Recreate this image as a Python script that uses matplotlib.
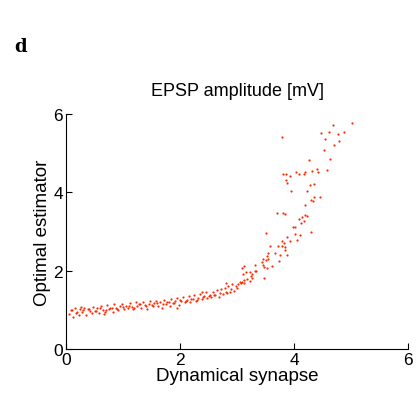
import matplotlib.pyplot as plt

plt.rcParams['font.family'] = ['Liberation Sans', 'DejaVu Sans']

# lower band (dynamical synapse vs optimal estimator)
band_x = [0.05, 0.08, 0.12, 0.15, 0.18, 0.22, 0.25, 0.28, 0.31, 0.35, 0.38, 0.42, 0.45, 0.48,
          0.52, 0.55, 0.58, 0.62, 0.65, 0.68, 0.72, 0.75, 0.78, 0.82, 0.85, 0.88, 0.92, 0.95,
          0.98, 1.02, 1.05, 1.08, 1.12, 1.15, 1.18, 1.22, 1.25, 1.28, 1.32, 1.35, 1.38, 1.42,
          1.45, 1.48, 1.52, 1.55, 1.58, 1.62, 1.65, 1.68, 1.72, 1.75, 1.78, 1.82, 1.85, 1.88,
          1.92, 1.95, 1.98, 2.02, 2.05, 2.08, 2.12, 2.15, 2.18, 2.22, 2.25, 2.28, 2.32, 2.35,
          2.38, 2.42, 2.45, 2.48, 2.52, 2.55, 2.58, 2.62, 2.65, 2.68, 2.72, 2.75, 2.78, 2.82,
          2.85, 2.88, 2.92, 2.95, 2.98, 3.02, 0.10, 0.20, 0.30, 0.40, 0.50, 0.60, 0.70, 0.80,
          0.90, 1.00, 1.10, 1.20, 1.30, 1.40, 1.50, 1.60, 1.70, 1.80, 1.90, 2.00, 2.10, 2.20,
          2.30, 2.40, 2.50, 2.60, 2.70, 2.80, 2.90, 3.00, 1.95, 2.38, 2.80, 3.05, 0.27, 0.66]
band_y = [0.90, 0.99, 0.83, 1.04, 0.93, 0.86, 1.02, 0.95, 1.06, 0.88, 1.03, 0.97, 0.91, 1.08,
          0.98, 1.05, 0.93, 1.10, 1.00, 0.94, 1.12, 1.02, 1.06, 0.96, 1.14, 1.06, 1.00, 1.09,
          1.16, 1.02, 1.11, 1.05, 1.17, 1.08, 1.02, 1.19, 1.10, 1.14, 1.05, 1.20, 1.12, 1.03,
          1.16, 1.22, 1.09, 1.17, 1.24, 1.11, 1.19, 1.06, 1.26, 1.16, 1.21, 1.11, 1.28, 1.18,
          1.23, 1.30, 1.13, 1.24, 1.32, 1.19, 1.26, 1.35, 1.21, 1.28, 1.38, 1.23, 1.31, 1.41,
          1.27, 1.35, 1.45, 1.30, 1.39, 1.32, 1.47, 1.38, 1.50, 1.34, 1.53, 1.41, 1.57, 1.43,
          1.60, 1.46, 1.65, 1.49, 1.60, 1.67, 1.01, 0.95, 0.99, 1.03, 0.97, 1.05, 1.01, 1.06,
          1.03, 1.08, 1.10, 1.06, 1.14, 1.09, 1.13, 1.17, 1.15, 1.20, 1.17, 1.25, 1.22, 1.29,
          1.26, 1.32, 1.35, 1.39, 1.42, 1.47, 1.53, 1.57, 1.05, 1.45, 1.68, 1.72, 1.08, 0.89]

# steep rise for large amplitudes
rise_x = [3.07, 3.13, 3.08, 3.12, 3.23, 3.18, 3.48, 3.27, 3.24, 3.26, 3.10, 3.16, 3.23, 3.34,
          3.32, 3.09, 3.53, 3.47, 3.61, 3.12, 3.31, 3.46, 3.44, 3.74, 3.54, 3.51, 3.46, 3.53,
          3.88, 3.75, 3.67, 3.54, 3.84, 3.84, 3.79, 3.72, 3.58, 4.06, 3.93, 3.82, 3.78, 3.87,
          4.10, 4.02, 4.29, 3.51, 4.02, 3.99, 4.12, 4.17, 4.09, 4.14, 4.23, 4.19, 3.84, 3.80,
          3.70, 4.19, 4.33, 4.29, 4.45, 4.35, 4.23, 3.95, 4.35, 4.28, 3.87, 3.85, 4.57, 4.42,
          4.40, 4.31, 4.20, 4.17, 4.09, 4.04, 3.93, 3.86, 3.80, 4.63, 4.26, 3.79, 4.52, 4.70,
          4.79, 4.55, 4.87, 4.77, 4.61, 4.47, 4.68, 5.02]
rise_y = [1.68, 1.70, 1.72, 1.76, 1.75, 1.78, 1.82, 1.82, 1.86, 1.92, 1.91, 1.96, 1.98, 1.99,
          2.00, 2.06, 2.08, 2.09, 2.12, 2.13, 2.14, 2.14, 2.22, 2.26, 2.29, 2.27, 2.29, 2.37,
          2.39, 2.41, 2.45, 2.46, 2.53, 2.60, 2.64, 2.64, 2.64, 2.79, 2.75, 2.71, 2.76, 2.87,
          2.90, 2.94, 3.00, 2.97, 3.12, 3.12, 3.22, 3.28, 3.33, 3.37, 3.39, 3.42, 3.45, 3.48,
          3.47, 3.68, 3.77, 3.81, 3.87, 3.87, 4.03, 4.03, 4.22, 4.18, 4.24, 4.32, 4.58, 4.52,
          4.59, 4.55, 4.51, 4.47, 4.47, 4.52, 4.42, 4.48, 4.47, 4.84, 4.83, 5.41, 5.09, 5.21,
          5.31, 5.36, 5.53, 5.49, 5.54, 5.52, 5.72, 5.76]

fig = plt.figure(figsize=(4.19, 4.02), dpi=100)
ax = fig.add_axes([0.1575, 0.129, 0.8165, 0.585])
ax.scatter(band_x + rise_x, band_y + rise_y, s=2.5, color='#ff2a00', linewidths=0)

ax.set_xlim(0, 6)
ax.set_ylim(0, 6)
ax.set_xticks([0, 2, 4, 6])
ax.set_yticks([0, 2, 4, 6])
ax.tick_params(direction='in', labelsize=12.5, length=4, pad=2)
ax.spines['top'].set_visible(False)
ax.spines['right'].set_visible(False)
ax.set_xlabel('Dynamical synapse', fontsize=13.5, labelpad=0)
ax.set_ylabel('Optimal estimator', fontsize=13.5, labelpad=2)
ax.set_title('EPSP amplitude [mV]', fontsize=13, pad=14)

fig.text(0.033, 0.87, 'd', fontsize=13, fontweight='bold', family='serif')

fig.savefig('out.png', dpi=100)
